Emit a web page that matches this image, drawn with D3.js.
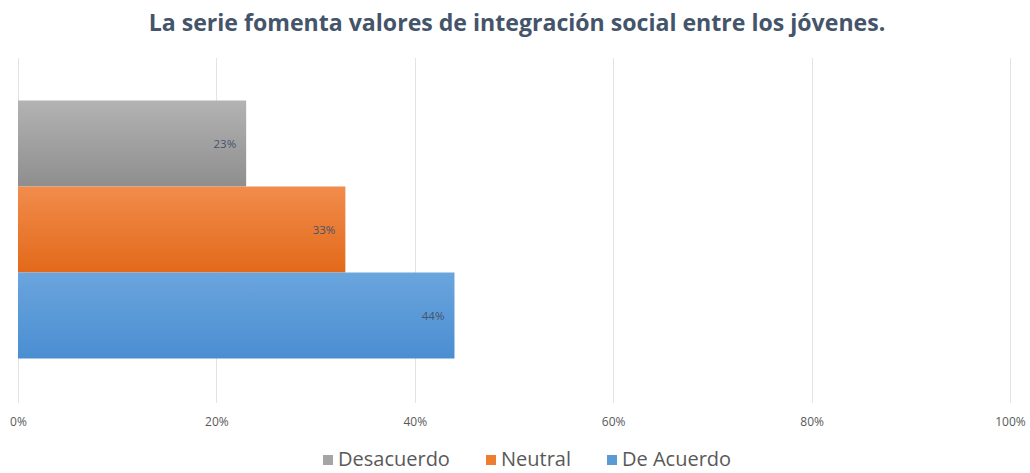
<!DOCTYPE html>
<html>
<head>
<meta charset="utf-8">
<script src="https://cdn.jsdelivr.net/npm/d3@7"></script>
<style>
  body { margin: 0; background: #fff; }
  text { font-family: "Open Sans", sans-serif; }
</style>
</head>
<body>
<div class="chart"></div>
<script>
// chart data
var categories = ["Desacuerdo", "Neutral", "De Acuerdo"];
var values = [0.23, 0.33, 0.44];
var tickValues = [0, 0.2, 0.4, 0.6, 0.8, 1.0];
var titleText = "La serie fomenta valores de integración social entre los jóvenes.";

var svgWidth = 1030, svgHeight = 473;

var svg = d3.select(".chart").append("svg")
    .attr("width", svgWidth)
    .attr("height", svgHeight);

// gradients for the bars (light top, darker bottom)
var gradColors = [["#b3b3b3", "#8e8e8e"], ["#f28c4c", "#e2691a"], ["#6aa5dd", "#4a8ed2"]];
var legendColors = ["#a5a5a5", "#ed7d31", "#5b9bd5"];
var defs = svg.append("defs");
gradColors.forEach(function (c, i) {
    var g = defs.append("linearGradient")
        .attr("id", "grad" + i)
        .attr("x1", 0).attr("y1", 0).attr("x2", 0).attr("y2", 1);
    g.append("stop").attr("offset", "0%").attr("stop-color", c[0]);
    g.append("stop").attr("offset", "100%").attr("stop-color", c[1]);
});

var xScale = d3.scaleLinear().domain([0, 1]).range([18, 1010]);
var yScale = d3.scaleBand().domain(categories).range([100.5, 358.5]).padding(0);

// gridlines
svg.append("g")
    .selectAll("line")
    .data(tickValues)
    .enter()
    .append("line")
    .attr("x1", function (d) { return Math.round(xScale(d)) + 0.5; })
    .attr("x2", function (d) { return Math.round(xScale(d)) + 0.5; })
    .attr("y1", 58)
    .attr("y2", 403)
    .attr("stroke", "#e3e3e3")
    .attr("stroke-width", 1);

// bars
svg.append("g")
    .selectAll("rect")
    .data(values)
    .enter()
    .append("rect")
    .attr("x", xScale(0))
    .attr("y", function (d, i) { return yScale(categories[i]); })
    .attr("width", function (d) { return xScale(d) - xScale(0); })
    .attr("height", yScale.bandwidth())
    .attr("fill", function (d, i) { return "url(#grad" + i + ")"; });

// data labels
svg.append("g")
    .selectAll("text")
    .data(values)
    .enter()
    .append("text")
    .attr("x", function (d) { return xScale(d) - 10; })
    .attr("y", function (d, i) { return yScale(categories[i]) + yScale.bandwidth() / 2 + 4; })
    .attr("text-anchor", "end")
    .style("font-size", "11.5px")
    .style("fill", "#44546a")
    .text(function (d) { return Math.round(d * 100) + "%"; });

// x axis tick labels
var xAxis = d3.axisBottom(xScale)
    .tickValues(tickValues)
    .tickFormat(d3.format(".0%"))
    .tickSize(0)
    .tickPadding(0);
var axisG = svg.append("g")
    .attr("transform", "translate(0,417)")
    .call(xAxis);
axisG.select(".domain").remove();
axisG.selectAll("text")
    .style("font-size", "12px")
    .style("fill", "#595959")
    .attr("font-family", null);

// title
svg.append("text")
    .attr("x", 517)
    .attr("y", 31)
    .attr("text-anchor", "middle")
    .style("font-size", "23.1px")
    .style("font-weight", "bold")
    .style("fill", "#44546a")
    .text(titleText);

// legend
var legendX = [323, 486, 607];
var legend = svg.append("g");
categories.forEach(function (c, i) {
    legend.append("rect")
        .attr("x", legendX[i])
        .attr("y", 455)
        .attr("width", 10)
        .attr("height", 10)
        .attr("fill", legendColors[i]);
    legend.append("text")
        .attr("x", legendX[i] + 15)
        .attr("y", 466)
        .style("font-size", "20px")
        .style("fill", "#595959")
        .text(c);
});
</script>
</body>
</html>
